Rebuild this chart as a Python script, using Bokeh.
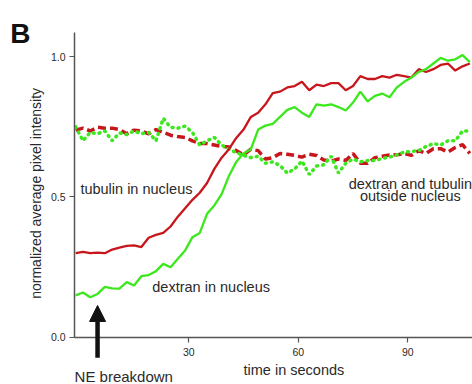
from bokeh.plotting import figure
from bokeh.models import Label, Arrow, NormalHead, Range1d, FixedTicker, LinearAxis
from bokeh.embed import file_html
from bokeh.resources import INLINE

# time in seconds
time_s = [-1, 1, 3, 5, 7, 9, 11, 13, 15, 17, 19, 21, 23, 25, 27, 29, 31, 33, 35, 37,
          39, 41, 43, 45, 47, 49, 51, 53, 55, 57, 59, 61, 63, 65, 67, 69, 71, 73, 75, 77,
          79, 81, 83, 85, 87, 89, 91, 93, 95, 97, 99, 101, 103, 105, 107]

tubulin_in = [0.30, 0.305, 0.30, 0.302, 0.30, 0.313, 0.32, 0.326, 0.328, 0.322,
              0.355, 0.365, 0.372, 0.395, 0.43, 0.46, 0.49, 0.515, 0.55, 0.60,
              0.64, 0.67, 0.71, 0.74, 0.785, 0.80, 0.83, 0.87, 0.875, 0.89,
              0.895, 0.91, 0.88, 0.90, 0.895, 0.905, 0.905, 0.88, 0.895, 0.93,
              0.92, 0.92, 0.93, 0.925, 0.935, 0.93, 0.925, 0.955, 0.945, 0.955,
              0.97, 0.975, 0.95, 0.965, 0.975]

dextran_in = [0.15, 0.16, 0.143, 0.155, 0.18, 0.175, 0.174, 0.197, 0.185, 0.218,
              0.222, 0.236, 0.262, 0.25, 0.28, 0.31, 0.357, 0.372, 0.44, 0.47,
              0.51, 0.575, 0.625, 0.655, 0.67, 0.74, 0.754, 0.76, 0.785, 0.81,
              0.82, 0.80, 0.785, 0.83, 0.825, 0.83, 0.82, 0.808, 0.836, 0.875,
              0.84, 0.86, 0.868, 0.855, 0.89, 0.91, 0.925, 0.945, 0.955, 0.975,
              0.995, 0.985, 0.99, 1.005, 0.98]

tubulin_out = [0.738, 0.745, 0.735, 0.748, 0.745, 0.745, 0.74, 0.725, 0.738, 0.735,
               0.725, 0.74, 0.73, 0.72, 0.715, 0.712, 0.70, 0.69, 0.69, 0.685,
               0.68, 0.678, 0.665, 0.65, 0.67, 0.665, 0.635, 0.64, 0.655, 0.652,
               0.648, 0.642, 0.652, 0.648, 0.632, 0.628, 0.635, 0.63, 0.655, 0.62,
               0.62, 0.64, 0.645, 0.65, 0.65, 0.655, 0.648, 0.665, 0.655, 0.672,
               0.672, 0.66, 0.676, 0.686, 0.655]

dextran_out = [0.75, 0.70, 0.73, 0.725, 0.735, 0.70, 0.728, 0.722, 0.735, 0.725,
               0.73, 0.70, 0.78, 0.748, 0.745, 0.752, 0.73, 0.685, 0.70, 0.712,
               0.685, 0.67, 0.658, 0.648, 0.64, 0.645, 0.62, 0.625, 0.612, 0.585,
               0.60, 0.628, 0.58, 0.61, 0.615, 0.645, 0.585, 0.62, 0.635, 0.625,
               0.63, 0.63, 0.637, 0.642, 0.65, 0.66, 0.662, 0.665, 0.68, 0.69,
               0.685, 0.70, 0.70, 0.735, 0.735]

x_ticks = [30, 60, 90]
y_ticks = [0.0, 0.5, 1.0]

RED = "#c8161d"
GREEN = "#3be81c"
FONT = "Liberation Sans"
TXT = "#2a2a2a"
AX = "#555555"

X0, X1 = -1.3, 107.73   # axis extent (time)
Y0, Y1 = 0.0, 1.085     # axis extent (intensity)

p = figure(width=472, height=384, output_backend="svg", toolbar_location=None,
           x_range=Range1d(-21.59, 107.73), y_range=Range1d(-0.1673, 1.1993),
           x_axis_type=None, y_axis_type=None,
           min_border_left=0, min_border_right=0, min_border_top=0, min_border_bottom=0)
p.outline_line_color = None
p.background_fill_color = "white"

xaxis = LinearAxis(fixed_location=Y0, bounds=(X0, X1), ticker=FixedTicker(ticks=x_ticks))
yaxis = LinearAxis(fixed_location=X0, bounds=(Y0, Y1), ticker=FixedTicker(ticks=y_ticks),
                   major_label_overrides={0.0: "0.0", 0.5: "0.5", 1.0: "1.0"})
for ax in (xaxis, yaxis):
    ax.axis_line_color = AX
    ax.axis_line_width = 1.5
    ax.major_tick_line_color = AX
    ax.major_tick_line_width = 1.2
    ax.major_tick_out = 5
    ax.major_tick_in = 0
    ax.minor_tick_line_color = None
    ax.major_label_text_font = FONT
    ax.major_label_text_font_size = "10.5px"
    ax.major_label_text_color = TXT
xaxis.major_label_standoff = 6
yaxis.major_label_standoff = 4
p.add_layout(xaxis, "below")
p.add_layout(yaxis, "left")

p.line(time_s, tubulin_out, line_color=RED, line_width=3.5, line_dash="8 4")
p.line(time_s, dextran_out, line_color=GREEN, line_width=3.5, line_dash="1 5",
       line_cap="round")
p.line(time_s, tubulin_in, line_color=RED, line_width=2.3)
p.line(time_s, dextran_in, line_color=GREEN, line_width=2.3)

def lab(x, y, text, size="14.5px", align="left", baseline="middle", angle=0, bold=False):
    p.add_layout(Label(x=x, y=y, text=text, text_font=FONT, text_font_size=size,
                       text_align=align, text_baseline=baseline, angle=angle,
                       text_color=TXT if not bold else "#111111",
                       text_font_style="bold" if bold else "normal"))

lab(0.3, 0.53, "tubulin in nucleus")
lab(20.0, 0.178, "dextran in nucleus")
lab(90.7, 0.548, "dextran and tubulin", align="center")
lab(90.7, 0.502, "outside nucleus", align="center")
lab(-1.3, -0.139, "NE breakdown", size="15px")
lab(58.8, -0.117, "time in seconds", size="14.5px", align="center")
lab(-11.8, 0.513, "normalized average pixel intensity", size="14px", align="center",
    angle=1.5708)
lab(-18.9, 1.082, "B", size="28px", baseline="alphabetic", bold=True)

p.add_layout(Arrow(x_start=5.0, y_start=-0.072, x_end=5.0, y_end=0.114,
                   line_width=4.5, line_color="#111111",
                   end=NormalHead(size=16, fill_color="#111111", line_color="#111111")))

open("out.html", "w").write(file_html(p, INLINE))
